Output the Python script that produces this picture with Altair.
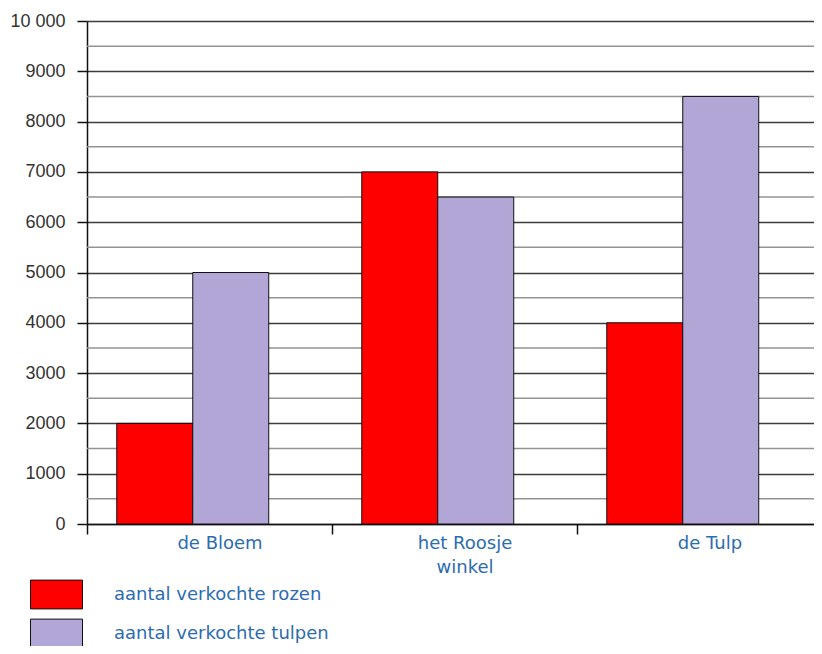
import altair as alt
import pandas as pd

shops = ["de Bloem", "het Roosje|winkel", "de Tulp"]
rozen = [2000, 7000, 4000]
tulpen = [5000, 6500, 8500]
series = ["aantal verkochte rozen", "aantal verkochte tulpen"]
colors = ["#fe0000", "#b1a6d6"]
y_ticks = list(range(0, 10001, 1000))
minor_grid = list(range(500, 10000, 1000))

rows = []
for i, s in enumerate(shops):
    rows.append({"shop": s, "serie": series[0], "value": rozen[i]})
    rows.append({"shop": s, "serie": series[1], "value": tulpen[i]})
df = pd.DataFrame(rows)
grid_df = pd.DataFrame({"v": minor_grid})

y_scale = alt.Scale(domain=[0, 10000], nice=False)


def y_axis():
    return alt.Axis(
        title=None,
        values=y_ticks,
        format="d",
        labelExpr="datum.value == 10000 ? '10 000' : datum.label",
        labelFont="Liberation Sans",
        labelFontSize=18,
        labelColor="#333333",
        labelPadding=12,
        tickSize=10,
        tickColor="#111111",
        tickWidth=1.5,
        domainColor="#111111",
        domainWidth=1.5,
        grid=True,
        gridColor="#3c3c3c",
        gridWidth=1.5,
    )


minor = alt.Chart(grid_df).mark_rule(color="#939393", strokeWidth=1.5).encode(
    y=alt.Y("v:Q", scale=y_scale, axis=y_axis())
)

bars = alt.Chart(df).mark_bar(stroke="#111111", strokeWidth=1).encode(
    x=alt.X(
        "shop:N",
        sort=shops,
        scale=alt.Scale(paddingInner=0, paddingOuter=0),
        axis=alt.Axis(
            title=None,
            labelAngle=0,
            labelExpr="split(datum.label, '|')",
            labelFont="DejaVu Sans",
            labelFontSize=18,
            labelColor="#2c6cb0",
            labelLineHeight=24,
            labelPadding=0,
            labelOffset=10,
            labelBaseline="top",
            tickBand="extent",
            tickSize=10,
            tickColor="#111111",
            tickWidth=1.5,
            domainColor="#111111",
            domainWidth=1.5,
        ),
    ),
    xOffset=alt.XOffset(
        "serie:N",
        sort=series,
        scale=alt.Scale(paddingInner=0, paddingOuter=0.612, align=0.32),
    ),
    y=alt.Y("value:Q", scale=y_scale, axis=y_axis()),
    color=alt.Color(
        "serie:N",
        sort=series,
        scale=alt.Scale(domain=series, range=colors),
        legend=alt.Legend(
            title=None,
            orient="none",
            legendX=-51,
            legendY=553,
            padding=0,
            symbolType="M-1.3,-0.72H1.3V0.72H-1.3Z",
            symbolSize=1600,
            symbolStrokeColor="#111111",
            symbolStrokeWidth=1,
            symbolOpacity=1,
            labelFont="DejaVu Sans",
            labelFontSize=18,
            labelColor="#2c6cb0",
            labelOffset=37,
            rowPadding=2,
            labelLimit=400,
        ),
    ),
)

chart = (
    alt.layer(minor, bars)
    .properties(
        width=735,
        height=503,
        autosize="none",
        padding={"left": 79, "top": 13, "right": -8, "bottom": 122},
        background="white",
    )
    .configure_view(strokeWidth=0)
)

chart.save("out.html", embed_options={"renderer": "svg", "actions": False})
